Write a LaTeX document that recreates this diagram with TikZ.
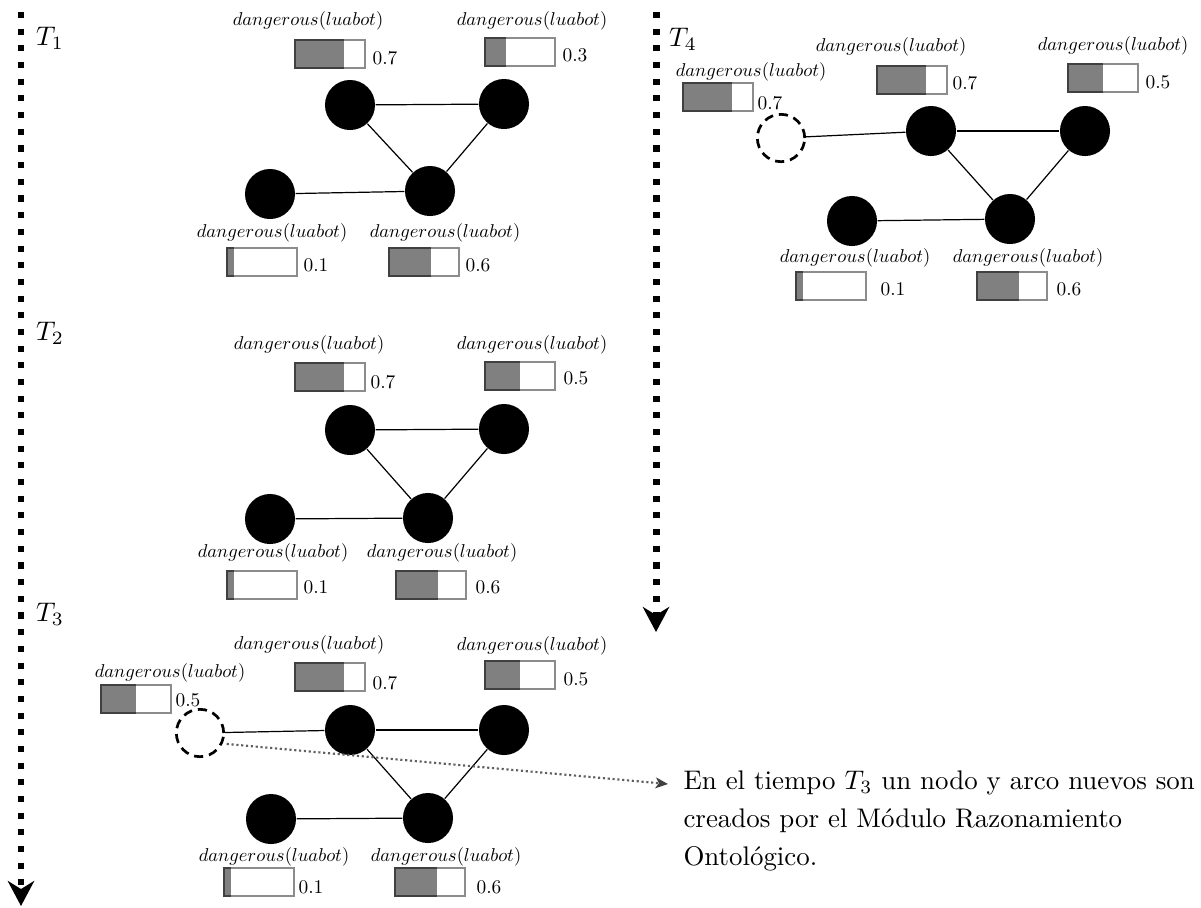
\documentclass[tikz,border=0pt]{standalone}
\usetikzlibrary{arrows.meta}
\definecolor{barfill}{HTML}{808080}
\definecolor{barrim}{HTML}{8C8C8C}
\definecolor{barrimdark}{HTML}{404040}
\definecolor{notegray}{HTML}{606060}
% level gauge: #1 = left x, #2 = top y, #3 = filled fraction
\newcommand\gauge[3]{%
  \fill[white] (#1,#2) rectangle ++(70,28);
  \fill[barfill] (#1,#2) rectangle ++({70*#3},28);
  \draw[barrim, line width=0.75pt] (#1,#2) rectangle ++(70,28);
  \draw[barrimdark, line width=0.75pt] ({#1+70*#3},#2) -| (#1,#2+28) -- ++({70*#3},0);
}
% predicate shown above every gauge, and the gauge value
\newcommand\pred{\scalebox{0.69}{$dangerous(luabot)$}}
\newcommand\level[1]{\scalebox{0.72}{#1}}
\begin{document}
\begin{tikzpicture}[x=0.3717pt, y=-0.3717pt,
  vertex/.style={circle, fill=black, inner sep=0pt, minimum size=18.6pt},
  newvertex/.style={circle, draw=black, line width=1pt, dash pattern=on 3.4pt off 2.2pt, inner sep=0pt, minimum size=17.6pt},
  link/.style={line width=0.45pt},
  timeline/.style={line width=2.6pt, dash pattern=on 2.25pt off 3.95pt,
    -{Stealth[length=9.3pt, width=9.8pt, inset=3pt]}},
  note/.style={notegray, line width=0.8pt, densely dotted,
    -{Stealth[length=4.6pt, width=4pt, inset=1.2pt, color=barrimdark]}},
  lbl/.style={inner sep=0pt},
  val/.style={inner sep=0pt},
  tag/.style={inner sep=0pt},
  remark/.style={inner sep=0pt, anchor=base west}]
\useasboundingbox (0,0) rectangle (1201,907);

% time axes
\coordinate (ltop) at (21,12);
\coordinate (lend) at (21,906);
\coordinate (rtop) at (656,12);
\coordinate (rend) at (656,632);
\draw[timeline] (ltop) -- (lend);
\draw[timeline] (rtop) -- (rend);

\node[tag] (t1) at (50,38) {$T_1$};
\node[tag] (t2) at (50,333) {$T_2$};
\node[tag] (t3) at (50,614) {$T_3$};
\node[tag] (t4) at (683,39) {$T_4$};

% ---------- T1 ----------
\node[vertex] (a1) at (350,105) {};
\node[vertex] (a2) at (504,104) {};
\node[vertex] (a3) at (430,191) {};
\node[vertex] (a4) at (270,194) {};
\draw[link] (a1) -- (a2);
\draw[link] (a1) -- (a3);
\draw[link] (a2) -- (a3);
\draw[link] (a4) -- (a3);
\gauge{295}{40}{0.7}
\gauge{485}{38}{0.3}
\gauge{227}{248}{0.1}
\gauge{389}{248}{0.6}
\node[lbl] (a1l) at (308,21) {\pred};
\node[lbl] (a2l) at (532,21) {\pred};
\node[lbl] (a4l) at (272,233) {\pred};
\node[lbl] (a3l) at (445,233) {\pred};
\node[val] (a1v) at (385,58) {\level{0.7}};
\node[val] (a2v) at (575,55) {\level{0.3}};
\node[val] (a4v) at (316,265) {\level{0.1}};
\node[val] (a3v) at (478,265) {\level{0.6}};

% ---------- T2 ----------
\node[vertex] (b1) at (350,430) {};
\node[vertex] (b2) at (504,429) {};
\node[vertex] (b3) at (428,518) {};
\node[vertex] (b4) at (270,519) {};
\draw[link] (b1) -- (b2);
\draw[link] (b1) -- (b3);
\draw[link] (b2) -- (b3);
\draw[link] (b4) -- (b3);
\gauge{295}{363}{0.7}
\gauge{485}{362}{0.5}
\gauge{227}{571}{0.1}
\gauge{396}{571}{0.6}
\node[lbl] (b1l) at (309,345) {\pred};
\node[lbl] (b2l) at (532,345) {\pred};
\node[lbl] (b4l) at (273,553) {\pred};
\node[lbl] (b3l) at (442,553) {\pred};
\node[val] (b1v) at (383,382) {\level{0.7}};
\node[val] (b2v) at (576,378) {\level{0.5}};
\node[val] (b4v) at (316,587) {\level{0.1}};
\node[val] (b3v) at (488,587) {\level{0.6}};

% ---------- T3 ----------
\node[vertex] (c1) at (350,730) {};
\node[vertex] (c2) at (504,730) {};
\node[vertex] (c3) at (428,818) {};
\node[vertex] (c4) at (271,819) {};
\node[newvertex] (c5) at (200,733) {};
\draw[link] (c1) -- (c2);
\draw[link] (c1) -- (c3);
\draw[link] (c2) -- (c3);
\draw[link] (c4) -- (c3);
\draw[link] (c5) -- (c1);
\gauge{101}{685}{0.5}
\gauge{295}{663}{0.7}
\gauge{485}{661}{0.5}
\gauge{224}{868}{0.1}
\gauge{395}{868}{0.6}
\node[lbl] (c5l) at (170,673) {\pred};
\node[lbl] (c1l) at (309,645) {\pred};
\node[lbl] (c2l) at (532,646) {\pred};
\node[lbl] (c4l) at (274,857) {\pred};
\node[lbl] (c3l) at (446,857) {\pred};
\node[val] (c5v) at (188,700) {\level{0.5}};
\node[val] (c1v) at (385,683) {\level{0.7}};
\node[val] (c2v) at (576,679) {\level{0.5}};
\node[val] (c4v) at (311,887) {\level{0.1}};
\node[val] (c3v) at (489,887) {\level{0.6}};

% ---------- T4 ----------
\node[vertex] (d1) at (931,131) {};
\node[vertex] (d2) at (1085,131) {};
\node[vertex] (d3) at (1010,219) {};
\node[vertex] (d4) at (852,221) {};
\node[newvertex] (d5) at (781,138) {};
\draw[link] (d1) -- (d2);
\draw[link] (d1) -- (d3);
\draw[link] (d2) -- (d3);
\draw[link] (d4) -- (d3);
\draw[link] (d5) -- (d1);
\gauge{683}{83}{0.7}
\gauge{877}{66}{0.7}
\gauge{1068}{64}{0.5}
\gauge{796}{272}{0.1}
\gauge{977}{272}{0.6}
\node[lbl] (d5l) at (751,72) {\pred};
\node[lbl] (d1l) at (891,47) {\pred};
\node[lbl] (d2l) at (1113,46) {\pred};
\node[lbl] (d4l) at (855,258) {\pred};
\node[lbl] (d3l) at (1028,258) {\pred};
\node[val] (d5v) at (770,103) {\level{0.7}};
\node[val] (d1v) at (965,83) {\level{0.7}};
\node[val] (d2v) at (1158,82) {\level{0.5}};
\node[val] (d4v) at (893,289) {\level{0.1}};
\node[val] (d3v) at (1069,289) {\level{0.6}};

% ---------- remark ----------
\node[remark] (r1) at (683,789) {En el tiempo $T_3$ un nodo y arco nuevos son};
\node[remark] (r2) at (683,827) {creados por el Módulo Razonamiento};
\node[remark] (r3) at (683,865) {Ontológico.};
\coordinate (rpoint) at (668,784);
\draw[note, shorten <=1.5pt] (c5.-25) -- (rpoint);
\end{tikzpicture}
\end{document}
